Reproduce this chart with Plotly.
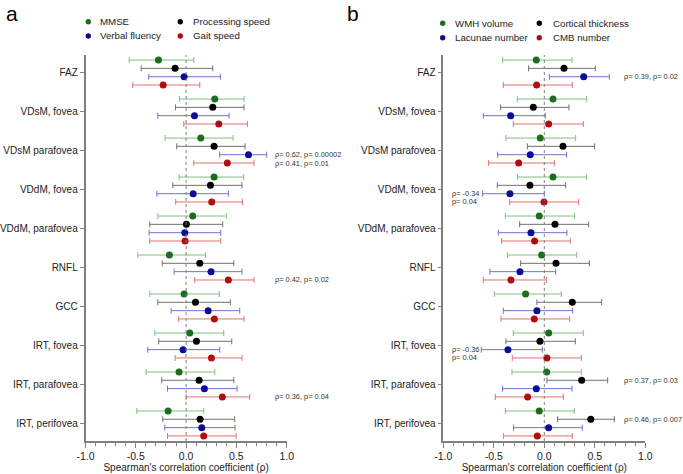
import plotly.graph_objects as go

categories = ["FAZ", "VDsM, fovea", "VDsM parafovea", "VDdM, fovea", "VDdM, parafovea",
              "RNFL", "GCC", "IRT, fovea", "IRT, parafovea", "IRT, perifovea"]

# Panel a: (rho, lower CI, upper CI)
a_mmse_rho = [-0.275, 0.285, 0.146, 0.278, 0.066, -0.166, -0.020, 0.036, -0.070, -0.179]
a_mmse_lo = [-0.566, -0.066, -0.209, -0.070, -0.281, -0.480, -0.361, -0.311, -0.397, -0.490]
a_mmse_hi = [0.076, 0.576, 0.467, 0.573, 0.404, 0.192, 0.331, 0.374, 0.285, 0.175]

a_proc_rho = [-0.109, 0.265, 0.278, 0.242, 0.003, 0.136, 0.093, 0.103, 0.129, 0.139]
a_proc_lo = [-0.447, -0.106, -0.093, -0.132, -0.361, -0.238, -0.281, -0.272, -0.242, -0.232]
a_proc_hi = [0.265, 0.576, 0.586, 0.556, 0.364, 0.474, 0.440, 0.454, 0.474, 0.483]

a_verb_rho = [-0.020, 0.083, 0.620, 0.070, -0.013, 0.248, 0.219, -0.030, 0.182, 0.156]
a_verb_lo = [-0.371, -0.281, 0.334, -0.291, -0.368, -0.119, -0.149, -0.381, -0.185, -0.212]
a_verb_hi = [0.341, 0.427, 0.801, 0.420, 0.344, 0.556, 0.533, 0.334, 0.507, 0.487]

a_gait_rho = [-0.228, 0.325, 0.410, 0.255, -0.010, 0.420, 0.281, 0.252, 0.360, 0.175]
a_gait_lo = [-0.530, -0.023, 0.076, -0.103, -0.361, 0.086, -0.073, -0.109, 0.000, -0.185]
a_gait_hi = [0.136, 0.609, 0.675, 0.560, 0.344, 0.675, 0.576, 0.556, 0.632, 0.497]

# Panel b
b_wmh_rho = [-0.079, 0.086, -0.040, 0.086, -0.050, -0.026, -0.185, 0.043, 0.023, -0.050]
b_wmh_lo = [-0.413, -0.267, -0.380, -0.264, -0.386, -0.366, -0.495, -0.307, -0.320, -0.386]
b_wmh_hi = [0.274, 0.419, 0.310, 0.419, 0.300, 0.320, 0.168, 0.386, 0.366, 0.297]

b_cort_rho = [0.195, -0.109, 0.185, -0.142, 0.106, 0.116, 0.277, -0.043, 0.370, 0.460]
b_cort_lo = [-0.155, -0.432, -0.168, -0.465, -0.244, -0.234, -0.073, -0.380, 0.026, 0.132]
b_cort_hi = [0.505, 0.244, 0.498, 0.211, 0.439, 0.446, 0.568, 0.307, 0.627, 0.693]

b_lac_rho = [0.390, -0.333, -0.139, -0.340, -0.132, -0.241, -0.073, -0.360, -0.079, 0.043]
b_lac_lo = [0.050, -0.604, -0.462, -0.611, -0.455, -0.538, -0.406, -0.624, -0.413, -0.304]
b_lac_hi = [0.644, 0.010, 0.221, 0.000, 0.224, 0.112, 0.281, -0.020, 0.274, 0.376]

b_cmb_rho = [-0.076, 0.043, -0.254, -0.003, -0.096, -0.330, -0.099, 0.026, -0.165, -0.069]
b_cmb_lo = [-0.406, -0.307, -0.551, -0.343, -0.422, -0.604, -0.429, -0.317, -0.485, -0.403]
b_cmb_hi = [0.277, 0.386, 0.099, 0.340, 0.257, 0.023, 0.251, 0.366, 0.188, 0.277]

x_ticks = [-1.0, -0.5, 0.0, 0.5, 1.0]
x_tick_labels = ["-1.0", "-0.5", "0.0", "0.5", "1.0"]
x_title = "Spearman's correlation coefficient (ρ)"

legend_a = ["MMSE", "Processing speed", "Verbal fluency", "Gait speed"]
legend_b = ["WMH volume", "Cortical thickness", "Lacunae number", "CMB number"]

# annotations: (panel, category index, series index, x, text)
notes = [
    ("a", 2, 2, 0.867, "ρ= 0.62, p= 0.00002"),
    ("a", 2, 3, 0.867, "ρ= 0.41, p= 0.01"),
    ("a", 5, 3, 0.867, "ρ= 0.42, p= 0.02"),
    ("a", 8, 3, 0.867, "ρ= 0.36, p= 0.04"),
    ("b", 0, 2, 0.766, "ρ= 0.39, p= 0.02"),
    ("b", 3, 2, -0.93, "ρ= -0.34"),
    ("b", 3, 3, -0.93, "p= 0.04"),
    ("b", 7, 2, -0.93, "ρ= -0.36"),
    ("b", 7, 3, -0.93, "p= 0.04"),
    ("b", 8, 1, 0.766, "ρ= 0.37, p= 0.03"),
    ("b", 9, 1, 0.766, "ρ= 0.46, p= 0.007"),
]

dot_colors = ["#1b6e1b", "#000000", "#0c0c96", "#b00e0e"]
bar_colors = ["#80c080", "#707070", "#7272d2", "#e07272"]
offsets = [-0.32, -0.107, 0.107, 0.32]
FONT = "Liberation Sans, Arial, sans-serif"

fig = go.Figure()

panels = {
    "a": dict(names=legend_a, data=[(a_mmse_rho, a_mmse_lo, a_mmse_hi), (a_proc_rho, a_proc_lo, a_proc_hi),
                                    (a_verb_rho, a_verb_lo, a_verb_hi), (a_gait_rho, a_gait_lo, a_gait_hi)],
              xa="x", ya="y"),
    "b": dict(names=legend_b, data=[(b_wmh_rho, b_wmh_lo, b_wmh_hi), (b_cort_rho, b_cort_lo, b_cort_hi),
                                    (b_lac_rho, b_lac_lo, b_lac_hi), (b_cmb_rho, b_cmb_lo, b_cmb_hi)],
              xa="x2", ya="y2"),
}

for key, p in panels.items():
    for s, (rho, lo, hi) in enumerate(p["data"]):
        ys = [i + offsets[s] for i in range(len(categories))]
        fig.add_trace(go.Scatter(
            x=rho, y=ys, mode="markers", name=p["names"][s], showlegend=False,
            xaxis=p["xa"], yaxis=p["ya"], cliponaxis=False,
            marker=dict(color=dot_colors[s], size=7),
            error_x=dict(type="data", symmetric=False,
                         array=[h - r for h, r in zip(hi, rho)],
                         arrayminus=[r - l for r, l in zip(rho, lo)],
                         color=bar_colors[s], thickness=1, width=3),
        ))

W, H = 683, 474
dom_a = [85.5 / W, 286.7 / W]
dom_b = [443.3 / W, 645.3 / W]
dom_y = [1 - 441 / H, 1 - 55 / H]

def xaxis(domain, anchor):
    return dict(domain=domain, anchor=anchor, range=[-1.0, 1.0], tickvals=x_ticks, ticktext=x_tick_labels,
                showgrid=False, zeroline=False, showline=True, linecolor="#808080", linewidth=1.5,
                ticks="outside", ticklen=5, tickcolor="#808080", tickwidth=1, automargin=False,
                minor=dict(ticks="outside", ticklen=3, dtick=0.1, tickcolor="#808080", showgrid=False),
                tickfont=dict(family=FONT, size=10.5, color="#222"),
                title=dict(text=x_title, font=dict(family=FONT, size=10, color="#222"), standoff=3))

def yaxis(domain, anchor):
    return dict(domain=domain, anchor=anchor, range=[9.45, -0.45], tickvals=list(range(len(categories))),
                ticktext=categories, showgrid=False, zeroline=False, showline=True, linecolor="#808080",
                linewidth=1.5, ticks="outside", ticklen=4, tickcolor="#808080", automargin=False,
                tickfont=dict(family=FONT, size=10, color="#222"))

shapes = []
annotations = []
for key, xa, ya, legend_pos in [("a", "x", "y", [(88.3, 98, 21.7), (180.3, 191, 21.7), (88.3, 98, 36), (180.3, 191, 36)]),
                                 ("b", "x2", "y2", [(442.7, 453, 23.3), (539.3, 551, 23.3), (442.7, 453, 37.7), (539.3, 551, 37.7)])]:
    shapes.append(dict(type="line", xref=xa, yref=ya + " domain", x0=0, x1=0, y0=0, y1=1,
                       line=dict(color="#808080", width=1, dash="dot")))
    names = panels[key]["names"]
    for s, (dx, tx, yy) in enumerate(legend_pos):
        shapes.append(dict(type="circle", xref="paper", yref="paper", xsizemode="pixel", ysizemode="pixel",
                           xanchor=dx / W, yanchor=1 - yy / H, x0=-2.7, x1=2.7, y0=-2.7, y1=2.7,
                           fillcolor=dot_colors[s], line=dict(width=0)))
        annotations.append(dict(text=names[s], xref="paper", yref="paper", x=tx / W, y=1 - yy / H,
                                xanchor="left", yanchor="middle", showarrow=False,
                                font=dict(family=FONT, size=9.7, color="#222")))

for panel, ci, si, xv, txt in notes:
    xa, ya = ("x", "y") if panel == "a" else ("x2", "y2")
    annotations.append(dict(text=txt, xref=xa, yref=ya, x=xv, y=ci + offsets[si], xanchor="left",
                            yanchor="middle", showarrow=False, font=dict(family=FONT, size=7.4, color="#333")))

annotations.append(dict(text="a", xref="paper", yref="paper", x=4 / W, y=1 - 13 / H, xanchor="left",
                        yanchor="middle", showarrow=False, font=dict(family=FONT, size=21, color="#000")))
annotations.append(dict(text="b", xref="paper", yref="paper", x=345 / W, y=1 - 13 / H, xanchor="left",
                        yanchor="middle", showarrow=False, font=dict(family=FONT, size=21, color="#000")))

fig.update_layout(
    width=W, height=H, margin=dict(l=0, r=0, t=0, b=0, autoexpand=False),
    paper_bgcolor="white", plot_bgcolor="white", showlegend=False,
    xaxis=xaxis(dom_a, "y"), yaxis=yaxis(dom_y, "x"),
    xaxis2=xaxis(dom_b, "y2"), yaxis2=yaxis(dom_y, "x2"),
    shapes=shapes, annotations=annotations,
)

fig.write_html("out.html", config={"displayModeBar": False},
               post_script="document.body.style.margin='0';document.body.style.overflow='hidden';")
